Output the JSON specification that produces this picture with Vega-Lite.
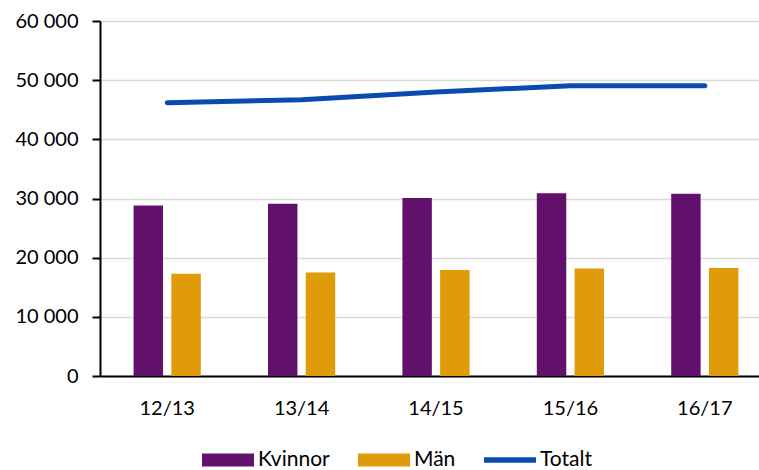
{
  "$schema": "https://vega.github.io/schema/vega-lite/v6.json",
  "width": 659,
  "height": 355,
  "autosize": {"type": "none"},
  "padding": {"left": 100, "top": 21, "right": 0, "bottom": 94},
  "background": "white",
  "config": {
    "view": {"stroke": null},
    "font": "Lato"
  },
  "data": {
    "values": [
      {"year": "12/13", "serie": "Kvinnor", "value": 28800},
      {"year": "12/13", "serie": "Män", "value": 17300},
      {"year": "12/13", "serie": "Totalt", "value": 46200},
      {"year": "13/14", "serie": "Kvinnor", "value": 29100},
      {"year": "13/14", "serie": "Män", "value": 17500},
      {"year": "13/14", "serie": "Totalt", "value": 46700},
      {"year": "14/15", "serie": "Kvinnor", "value": 30100},
      {"year": "14/15", "serie": "Män", "value": 17900},
      {"year": "14/15", "serie": "Totalt", "value": 48000},
      {"year": "15/16", "serie": "Kvinnor", "value": 30900},
      {"year": "15/16", "serie": "Män", "value": 18150},
      {"year": "15/16", "serie": "Totalt", "value": 49050},
      {"year": "16/17", "serie": "Kvinnor", "value": 30800},
      {"year": "16/17", "serie": "Män", "value": 18250},
      {"year": "16/17", "serie": "Totalt", "value": 49050}
    ]
  },
  "encoding": {
    "x": {
      "field": "year", "type": "nominal", "sort": null,
      "scale": {"range": [0, 672], "paddingInner": 0.5, "paddingOuter": 0.25},
      "axis": {"title": null, "labelAngle": 0, "ticks": false, "domainColor": "#000000", "domainWidth": 2, "labelPadding": 22, "grid": false,
        "labelFont": "Lato", "labelFontSize": 20, "labelColor": "#000000"}
    },
    "y": {
      "field": "value", "type": "quantitative",
      "scale": {"domain": [0, 60000]},
      "axis": {
        "title": null, "values": [0, 10000, 20000, 30000, 40000, 50000, 60000], "labelOverlap": false,
        "labelExpr": "replace(format(datum.value, ','), ',', ' ')",
        "labelFont": "Lato", "labelFontSize": 20, "labelColor": "#000000",
        "domainColor": "#000000", "domainWidth": 2, "tickColor": "#000000", "tickWidth": 2, "tickSize": 8,
        "labelPadding": 14, "gridColor": "#d9d9d9", "gridWidth": 1.5
      }
    },
    "color": {
      "field": "serie", "type": "nominal",
      "scale": {"domain": ["Kvinnor", "Män", "Totalt"], "range": ["#61116b", "#e09b09", "#0a4baf"]},
      "legend": {
        "title": null, "orient": "none", "direction": "horizontal", "legendX": 115, "legendY": 426,
        "symbolSize": 676, "labelFontSize": 21, "labelFont": "Lato", "labelColor": "#000000",
        "labelOffset": 17, "columnPadding": 28, "symbolStrokeWidth": 0,
        "encode": {
          "symbols": {"update": {
            "shape": {"signal": "datum.value === 'Totalt' ? 'M-2,-0.22H2V0.22H-2Z' : 'M-2,-0.5H2V0.5H-2Z'"},
            "fill": {"scale": "color", "field": "value"},
            "strokeWidth": {"value": 0},
            "opacity": {"value": 1}
          }}
        }
      }
    }
  },
  "layer": [
    {
      "transform": [{"filter": "datum.serie !== 'Totalt'"}],
      "mark": {"type": "bar"},
      "encoding": {
        "xOffset": {"field": "serie", "type": "nominal", "scale": {"domain": ["Kvinnor", "Män"], "paddingInner": 0.22, "paddingOuter": 0}}
      }
    },
    {
      "transform": [{"filter": "datum.serie === 'Totalt'"}],
      "mark": {"type": "line", "strokeWidth": 5, "strokeCap": "round"}
    }
  ]
}
